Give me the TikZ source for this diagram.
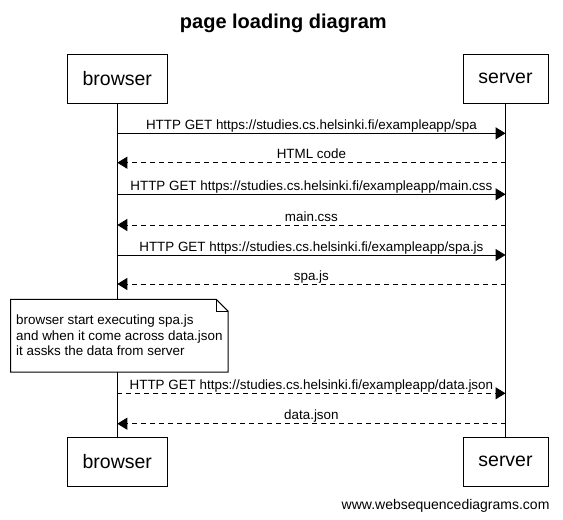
\documentclass[tikz,border=0pt]{standalone}
\usepackage{fontspec}
\setmainfont{Liberation Sans}
\usetikzlibrary{arrows.meta}
\begin{document}
\begin{tikzpicture}[x=1pt,y=-1pt,
		actor/.style={draw,line width=1pt,inner sep=0pt,minimum height=49pt,font=\fontsize{19.5}{22}\selectfont},
		msg/.style={line width=1pt,-{Triangle[length=10pt,width=12pt]}},
		reply/.style={msg,dash pattern=on 5pt off 4pt},
		msglabel/.style={midway,anchor=base,yshift=4pt,font=\fontsize{13.4}{15}\selectfont},
		notebox/.style={fill=white,inner xsep=4pt,inner ysep=0pt,minimum width=217pt,minimum height=72.4pt,align=left,font=\fontsize{13.4}{15.5}\selectfont}]
	\useasboundingbox (0,0) rectangle (563,520);
	\node[anchor=base,font=\bfseries\fontsize{20}{24}\selectfont] (title) at (283.3,28) {page loading diagram};
	% participants, top and bottom
	\node[actor,minimum width=100pt] (browser) at (117.3,78.5) {browser};
	\node[actor,minimum width=85pt] (server) at (505.5,78.5) {server};
	\node[actor,minimum width=100pt] (browser2) at (117.3,461.7) {browser};
	\node[actor,minimum width=85pt] (server2) at (505.5,461.7) {server};
	\draw[line width=1pt] (browser) -- (browser2);
	\draw[line width=1pt] (server) -- (server2);
	% message rows
	\foreach \n/\y in {1/133.3,2/162.7,3/194.3,4/225,5/255,6/284,7/393.3,8/423.7}
	{
		\coordinate (b\n) at (117.3,\y);
		\coordinate (s\n) at (505.5,\y);
	}
	\draw[msg] (b1) -- node[msglabel] {HTTP GET https://studies.cs.helsinki.fi/exampleapp/spa} (s1);
	\draw[reply] (s2) -- node[msglabel] {HTML code} (b2);
	\draw[msg] (b3) -- node[msglabel] {HTTP GET https://studies.cs.helsinki.fi/exampleapp/main.css} (s3);
	\draw[reply] (s4) -- node[msglabel] {main.css} (b4);
	\draw[msg] (b5) -- node[msglabel] {HTTP GET https://studies.cs.helsinki.fi/exampleapp/spa.js} (s5);
	\draw[reply] (s6) -- node[msglabel] {spa.js} (b6);
	% note over the browser
	\node[notebox,anchor=north west] (note) at (10.7,299.3) {browser start executing spa.js\\and when it come across data.json\\it assks the data from server};
	\draw[line width=1pt] (note.north west) -- ([xshift=-12pt]note.north east) -- ([yshift=-12pt]note.north east) -- (note.south east) -- (note.south west) -- cycle;
	\draw[line width=1pt] ([xshift=-12pt]note.north east) |- ([yshift=-12pt]note.north east);
	\draw[reply] (b7) -- node[msglabel] {HTTP GET https://studies.cs.helsinki.fi/exampleapp/data.json} (s7);
	\draw[reply] (s8) -- node[msglabel] {data.json} (b8);
	\node[anchor=base east,font=\fontsize{14}{16}\selectfont] (credit) at (553,509.5) {www.websequencediagrams.com};
\end{tikzpicture}
\end{document}
